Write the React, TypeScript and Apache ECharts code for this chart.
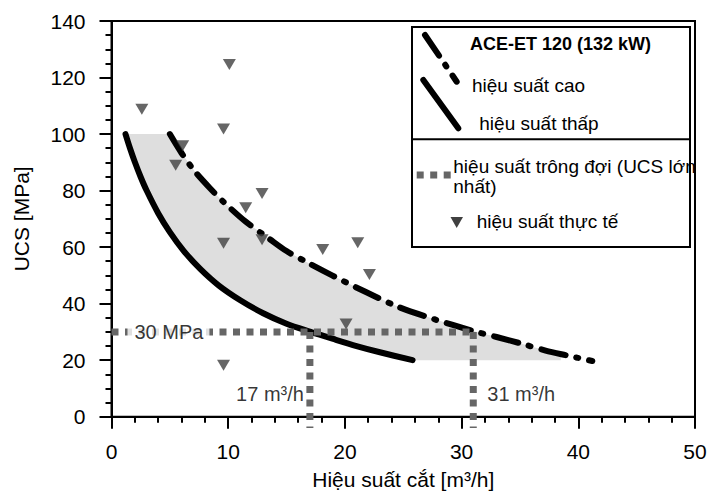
import React, { useEffect, useRef } from "react";
import * as echarts from "echarts";

const FONT = "'Liberation Sans', Arial, Helvetica, sans-serif";

// Low-performance curve (solid)
const lowCurveX = [1.2, 1.6, 2.0, 2.5, 3.0, 4.0, 5.0, 6.2, 7.6, 9.2, 11.0, 13.0, 15.0, 17.0, 19.0, 21.0, 23.0, 25.8];
const lowCurveY = [100, 94.8, 90.1, 84.8, 80.1, 72.0, 65.3, 58.6, 52.3, 46.4, 41.3, 36.6, 32.9, 30.1, 27.5, 25.0, 22.8, 20.0];

// High-performance curve (dash-dot)
const highCurveX = [5.0, 6.0, 7.1, 8.4, 9.6, 11.5, 13.5, 15.0, 16.9, 18.9, 21.8, 24.6, 27.5, 31.0, 33.0, 35.0, 37.2, 39.0, 41.2];
const highCurveY = [100, 93.3, 87, 81, 76, 69, 63, 58.6, 54.3, 50, 44.1, 38.8, 34.7, 30.3, 28.2, 26.0, 23.4, 21.7, 19.7];

// Right edge of the grey band
const bandEndX = [38.5, 38.5];
const bandEndY = [22.2, 20];

// Actual performance (triangles)
const actualX = [2.6, 10.1, 9.6, 6.1, 5.5, 12.9, 11.5, 9.6, 12.9, 18.1, 21.1, 22.1, 20.1, 9.6];
const actualY = [108.8, 124.6, 101.8, 95.9, 89, 79, 73.9, 61.4, 62.6, 59.2, 61.5, 50.3, 32.8, 18.2];

// Expected performance at max UCS
const ucsMax = 30;
const expectedRates = [17, 31];
const dropBelowAxis = -4;
const annotationY = 8;

const ucsLabel = "30 MPa";
const rateLabels = ["17 m³/h", "31 m³/h"];

const xTicks = { min: 0, max: 50, interval: 10 };
const yTicks = { min: 0, max: 140, interval: 20 };

const legendTexts = {
  title: "ACE-ET 120 (132 kW)",
  high: "hiệu suất cao",
  low: "hiệu suất thấp",
  expected1: "hiệu suất trông đợi (UCS lớn",
  expected2: "nhất)",
  actual: "hiệu suất thực tế",
};

const DASHDOT = [25, 11, 2, 11];
const DOTTED = [7, 6.5];

export default function App() {
  const ref = useRef<HTMLDivElement>(null);

  useEffect(() => {
    if (!ref.current) return;
    const chart = echarts.init(ref.current, null, { renderer: "svg" });

    const low = lowCurveX.map((x, i) => [x, lowCurveY[i]]);
    const high = highCurveX.map((x, i) => [x, highCurveY[i]]);
    const bandEnd = bandEndX.map((x, i) => [x, bandEndY[i]]);
    const bandPoly = [
      ...high.filter((p) => p[0] < bandEndX[0]),
      ...bandEnd,
      ...low.slice().reverse(),
    ];
    const actual = actualX.map((x, i) => [x, actualY[i]]);

    const axisLineStyle = { color: "#000", width: 2 };

    const option: any = {
      animation: false,
      backgroundColor: "#fff",
      textStyle: { fontFamily: FONT },
      grid: {
        left: 111.5,
        right: 15,
        top: 21,
        bottom: 77.3,
        show: true,
        borderColor: "#000",
        borderWidth: 2,
        outerBoundsMode: "none",
      },
      xAxis: {
        type: "value",
        min: xTicks.min,
        max: xTicks.max,
        interval: xTicks.interval,
        axisLine: { lineStyle: axisLineStyle },
        axisTick: { length: 12, lineStyle: { color: "#000", width: 2 } },
        minorTick: { show: true, splitNumber: 5, length: 6, lineStyle: { color: "#000", width: 2 } },
        splitLine: { show: false },
        axisLabel: { fontSize: 21, color: "#000", margin: 24, fontFamily: FONT },
        name: "Hiệu suất cắt [m³/h]",
        nameLocation: "middle",
        nameGap: 52,
        nameTextStyle: { fontSize: 21, color: "#000", fontFamily: FONT },
      },
      yAxis: {
        type: "value",
        min: yTicks.min,
        max: yTicks.max,
        interval: yTicks.interval,
        axisLine: { lineStyle: axisLineStyle },
        axisTick: { length: 12, lineStyle: { color: "#000", width: 2 } },
        minorTick: { show: true, splitNumber: 4, length: 6, lineStyle: { color: "#000", width: 2 } },
        splitLine: { show: false },
        axisLabel: { fontSize: 21, color: "#000", margin: 26, fontFamily: FONT },
        name: "UCS [MPa]",
        nameLocation: "middle",
        nameGap: 80,
        nameTextStyle: { fontSize: 21, color: "#000", fontFamily: FONT },
      },
      series: [
        {
          type: "custom",
          name: "band",
          silent: true,
          data: [[0, 0]],
          z: 1,
          renderItem: (_params: any, api: any) => ({
            type: "polygon",
            shape: { points: bandPoly.map((p) => api.coord(p)) },
            style: { fill: "#dedede", stroke: "none" },
          }),
        },
        {
          type: "line",
          name: "low",
          data: low,
          smooth: 0.3,
          showSymbol: false,
          symbol: "none",
          z: 2,
          lineStyle: { color: "#000", width: 6, cap: "round", join: "round" },
        },
        {
          type: "line",
          name: "high",
          data: high,
          smooth: 0.3,
          showSymbol: false,
          symbol: "none",
          z: 2,
          lineStyle: { color: "#000", width: 6, type: DASHDOT, cap: "round", join: "round" },
        },
        {
          type: "line",
          name: "ucsLine",
          data: [[0, ucsMax], [expectedRates[1], ucsMax]],
          showSymbol: false,
          symbol: "none",
          clip: false,
          z: 3,
          lineStyle: { color: "#666", width: 7, type: DOTTED, cap: "butt" },
        },
        ...expectedRates.map((r) => ({
          type: "line",
          name: "rate" + r,
          data: [[r, ucsMax], [r, dropBelowAxis]],
          showSymbol: false,
          symbol: "none",
          clip: false,
          z: 3,
          lineStyle: { color: "#666", width: 7, type: DOTTED, cap: "butt" },
        })),
        {
          type: "scatter",
          name: "actual",
          data: actual,
          symbol: "triangle",
          symbolRotate: 180,
          symbolSize: [13, 11],
          z: 4,
          itemStyle: { color: "#404040" },
        },
        {
          type: "scatter",
          name: "annotations",
          symbolSize: 0,
          z: 5,
          silent: true,
          data: [
            {
              value: [0, ucsMax],
              label: {
                show: true,
                position: "right",
                distance: 16,
                formatter: ucsLabel,
                backgroundColor: "#fff",
                padding: [2, 6, 2, 7],
                fontSize: 20,
                color: "#000",
                fontFamily: FONT,
              },
            },
            {
              value: [expectedRates[0], annotationY],
              label: {
                show: true,
                position: "left",
                distance: 6,
                formatter: rateLabels[0],
                fontSize: 20,
                color: "#000",
                fontFamily: FONT,
              },
            },
            {
              value: [expectedRates[1], annotationY],
              label: {
                show: true,
                position: "right",
                distance: 14,
                formatter: rateLabels[1],
                fontSize: 20,
                color: "#000",
                fontFamily: FONT,
              },
            },
          ],
        },
      ],
      graphic: [
        {
          type: "rect",
          z: 10,
          shape: { x: 412, y: 27, width: 278, height: 220 },
          style: { fill: "#fff", stroke: "#000", lineWidth: 2 },
        },
        {
          type: "line",
          z: 11,
          shape: { x1: 412, y1: 139.3, x2: 690, y2: 139.3 },
          style: { stroke: "#000", lineWidth: 2 },
        },
        {
          type: "line",
          z: 11,
          shape: { x1: 425, y1: 35, x2: 456.7, y2: 81.7 },
          style: { stroke: "#000", lineWidth: 6, lineCap: "round", lineDash: DASHDOT },
        },
        {
          type: "line",
          z: 11,
          shape: { x1: 423.3, y1: 80, x2: 458.3, y2: 128.3 },
          style: { stroke: "#000", lineWidth: 6, lineCap: "round" },
        },
        {
          type: "text",
          z: 11,
          x: 470,
          y: 43.5,
          style: { text: legendTexts.title, font: `bold 18px ${FONT}`, fill: "#000", verticalAlign: "middle" },
        },
        {
          type: "text",
          z: 11,
          x: 472,
          y: 85,
          style: { text: legendTexts.high, font: `19px ${FONT}`, fill: "#000", verticalAlign: "middle" },
        },
        {
          type: "text",
          z: 11,
          x: 479.3,
          y: 123.3,
          style: { text: legendTexts.low, font: `19px ${FONT}`, fill: "#000", verticalAlign: "middle" },
        },
        {
          type: "line",
          z: 11,
          shape: { x1: 416.7, y1: 175, x2: 451, y2: 175 },
          style: { stroke: "#666", lineWidth: 7, lineDash: DOTTED },
        },
        {
          type: "text",
          z: 11,
          x: 453.3,
          y: 166.7,
          style: { text: legendTexts.expected1, font: `19px ${FONT}`, fill: "#000", verticalAlign: "middle" },
        },
        {
          type: "text",
          z: 11,
          x: 453.3,
          y: 186,
          style: { text: legendTexts.expected2, font: `19px ${FONT}`, fill: "#000", verticalAlign: "middle" },
        },
        {
          type: "polygon",
          z: 11,
          shape: { points: [[450.5, 217], [463, 217], [456.7, 228]] },
          style: { fill: "#404040" },
        },
        {
          type: "text",
          z: 11,
          x: 476.7,
          y: 221.7,
          style: { text: legendTexts.actual, font: `19px ${FONT}`, fill: "#000", verticalAlign: "middle" },
        },
      ],
    };

    chart.setOption(option);
    return () => chart.dispose();
  }, []);

  return (
    <div
      ref={ref}
      style={{ position: "absolute", left: 0, top: 0, width: 710, height: 494, background: "#fff" }}
    />
  );
}
